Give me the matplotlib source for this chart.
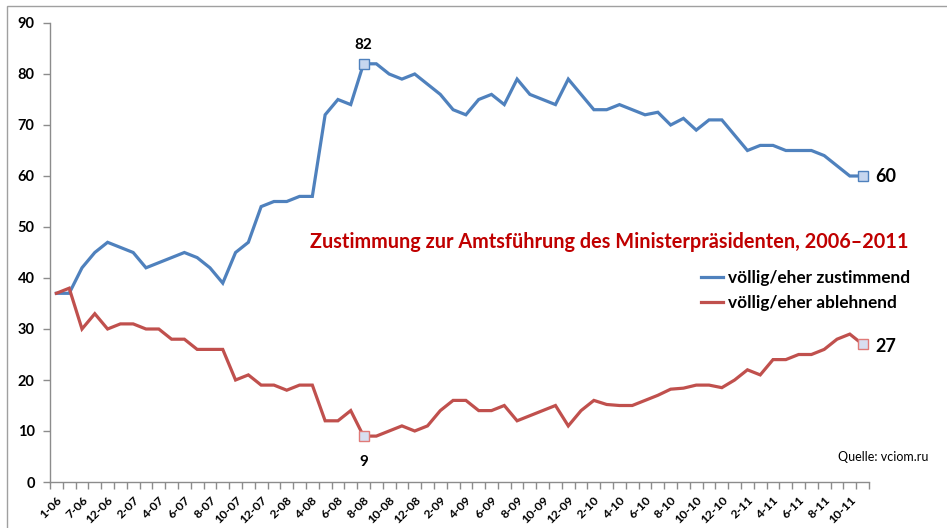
import matplotlib
matplotlib.use("Agg")
import matplotlib.pyplot as plt
from matplotlib.patches import Rectangle

plt.rcParams['font.family'] = ['Lato', 'DejaVu Sans']

# ---- data ----
months = ['1-06', '4-06', '7-06', '10-06']
for y in range(6, 12):
    for m in range(1, 13):
        if (y == 6 and m < 12) or (y == 11 and m > 11):
            continue
        months.append(f'{m}-{y:02d}')

zustimmend = [37, 37, 42, 45, 47, 46, 45, 42, 43, 44,
              45, 44, 42, 39, 45, 47, 54, 55, 55, 56,
              56, 72, 75, 74, 82, 82, 80, 79, 80, 78,
              76, 73, 72, 75, 76, 74, 79, 76, 75, 74,
              79, 76, 73, 73, 74, 73, 72, 72.5, 70, 71.3,
              69, 71, 71, 68, 65, 66, 66, 65, 65, 65,
              64, 62, 60, 60]
ablehnend = [37, 38, 30, 33, 30, 31, 31, 30, 30, 28,
             28, 26, 26, 26, 20, 21, 19, 19, 18, 19,
             19, 12, 12, 14, 9, 9, 10, 11, 10, 11,
             14, 16, 16, 14, 14, 15, 12, 13, 14, 15,
             11, 14, 16, 15.2, 15, 15, 16, 17, 18.2, 18.4,
             19, 19, 18.5, 20, 22, 21, 24, 24, 25, 25,
             26, 28, 29, 27]
series_names = ['völlig/eher zustimmend', 'völlig/eher ablehnend']
title = 'Zustimmung zur Amtsführung des Ministerpräsidenten, 2006\u20132011'
source = 'Quelle: vciom.ru'
yticks = list(range(0, 100, 10))

blue = '#4f81bd'
red = '#c0504d'
axis_col = '#8c8c8c'

W, H = 947, 528
fig = plt.figure(figsize=(W / 100, H / 100), dpi=100)
fig.patch.set_facecolor('white')

# chart border
fig.patches.append(Rectangle((7 / W, -0.1), 1.2, 1 - 6 / H + 0.1, transform=fig.transFigure,
                             fill=False, edgecolor='#a0a0a0', linewidth=1.0))

ax = fig.add_axes([50 / W, 1 - 482 / H, (869 - 50) / W, (482 - 23) / H])
x = list(range(len(months)))

ax.plot(x, zustimmend, color=blue, lw=2.3, solid_joinstyle='miter', label=series_names[0], zorder=3)
ax.plot(x, ablehnend, color=red, lw=2.3, solid_joinstyle='miter', label=series_names[1], zorder=3)

peak = zustimmend.index(max(zustimmend))
last = len(months) - 1
for i in (peak, last):
    ax.plot(i, zustimmend[i], marker='s', ms=7.5, mfc='#c6d6ef', mec=blue, mew=1.0, zorder=4)
    ax.plot(i, ablehnend[i], marker='s', ms=7.5, mfc='#d8def0', mec='#e07a78', mew=1.0, zorder=4)

ax.annotate(f'{zustimmend[peak]:g}', (peak, zustimmend[peak]), xytext=(0, 19),
            textcoords='offset pixels', ha='center', va='center', fontsize=11, fontweight='bold')
ax.annotate(f'{ablehnend[peak]:g}', (peak, ablehnend[peak]), xytext=(0, -26),
            textcoords='offset pixels', ha='center', va='center', fontsize=11, fontweight='bold')
ax.annotate(f'{zustimmend[last]:g}', (last, zustimmend[last]), xytext=(13, -1),
            textcoords='offset pixels', ha='left', va='center', fontsize=13, fontweight='bold')
ax.annotate(f'{ablehnend[last]:g}', (last, ablehnend[last]), xytext=(13, -2),
            textcoords='offset pixels', ha='left', va='center', fontsize=13, fontweight='bold')

ax.set_xlim(-0.5, len(months) - 0.5)
ax.set_ylim(0, 90)
ax.set_yticks(yticks)
ax.set_yticklabels([str(v) for v in yticks], fontsize=10.5, fontweight='bold')
ax.tick_params(axis='y', direction='out', length=5, width=1, color=axis_col, pad=6)

ax.set_xticks(x[::2])
ax.set_xticklabels(months[::2], rotation=45, ha='right', va='top', rotation_mode='anchor',
                   fontsize=8.8, fontweight='bold')
ax.tick_params(axis='x', which='major', length=0, pad=9)
ax.set_xticks([i - 0.5 for i in range(len(months) + 1)], minor=True)
ax.tick_params(axis='x', which='minor', direction='out', length=5, width=1, color=axis_col)

for s in ('top', 'right'):
    ax.spines[s].set_visible(False)
for s in ('left', 'bottom'):
    ax.spines[s].set_color(axis_col)
    ax.spines[s].set_linewidth(1.0)

fig.text(310 / W, 1 - 242 / H, title, color='#c00000', fontsize=14.3, fontweight='bold',
         ha='left', va='center')

leg = ax.legend(loc='upper left', bbox_to_anchor=(692 / W, 1 - 261 / H),
                bbox_transform=fig.transFigure, frameon=False, fontsize=12.4,
                handlelength=1.3, handletextpad=0.3, labelspacing=0.55, borderpad=0)
for t in leg.get_texts():
    t.set_fontweight('bold')

fig.text(928 / W, 1 - 457 / H, source, fontsize=9, ha='right', va='center', color='black')

fig.savefig('out.png', dpi=100, facecolor='white')
